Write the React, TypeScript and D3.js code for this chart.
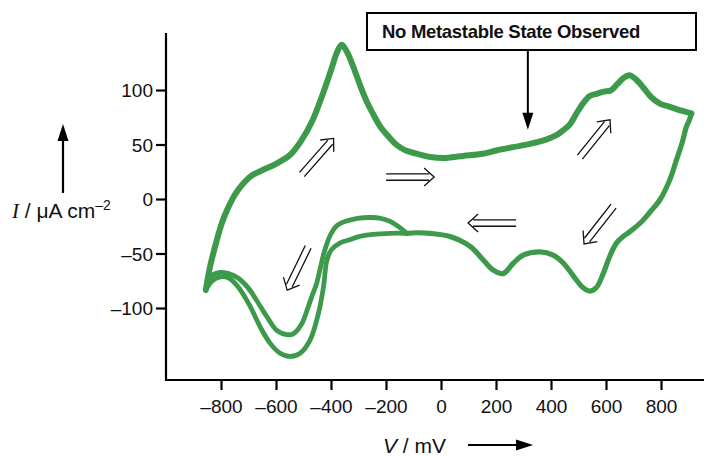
import React from "react";
import * as d3 from "d3";

// ---- Data ----
// Anodic (forward) scan: left vertex -> right vertex
const forwardV = [-857, -842, -820, -798, -775, -750, -720, -690, -650, -600, -550, -510, -470, -430, -400, -380, -363, -345, -321, -295, -272, -250, -223, -190, -163, -130, -90, -40, 5, 78, 150, 200, 260, 321, 380, 418, 445, 467, 491, 514, 539, 564, 590, 615, 640, 660, 683, 708, 733, 762, 794, 830, 854, 880, 909];
const forwardI = [-83, -62, -40, -21, -7, 5, 15, 22, 27, 33, 41, 54, 72, 98, 120, 135, 142, 136, 122, 104, 90, 79, 67, 57, 50, 45, 42, 39, 38, 40, 42, 45, 48, 51, 55, 59, 64, 69, 79, 88, 95, 97, 99, 100, 106, 111, 114, 110, 103, 94, 88, 85, 83, 81, 79];

// Cathodic (reverse) scan, common part: right vertex -> merge point
const reverseV = [909, 900, 891, 875, 854, 830, 795, 760, 733, 685, 660, 636, 612, 588, 564, 540, 515, 491, 442, 406, 358, 297, 261, 224, 188, 152, 104, 31, -42, -90, -126];
const reverseI = [79, 72, 67, 52, 36, 18, 0, -11, -19, -29.5, -34, -40, -52, -68, -80.5, -84, -81, -74, -58, -51, -48, -51, -58.5, -68, -64.7, -55.5, -43, -34, -31, -30.5, -31];

// Cycle A (hump at top, shallower peak): merge point -> left vertex
const cycleAV = [-126, -150, -187, -225, -260, -300, -335, -360, -381, -405, -425, -440, -454, -470, -484, -508, -538, -562, -599, -635, -659, -700, -740, -774, -810, -840, -857];
const cycleAI = [-31, -26, -20, -17, -16.5, -17, -19, -21, -24, -33, -47, -62, -77, -88, -98, -114, -123, -124, -120, -107.5, -98, -82, -72, -68, -67, -71, -83];

// Cycle B (flat top, deeper peak): merge point -> left vertex
const cycleBV = [-126, -187, -250, -300, -335, -370, -400, -417, -429, -447, -478, -514, -550, -587, -623, -659, -700, -740, -774, -805, -835, -857];
const cycleBI = [-31, -31, -32, -34, -37, -40, -46, -56, -80, -104, -129, -141, -144, -141, -132, -117, -96, -80, -72, -71, -75, -83];

const xTicks = [-800, -600, -400, -200, 0, 200, 400, 600, 800];
const yTicks = [-100, -50, 0, 50, 100];

// Scan-direction arrows (centre in data units, direction in degrees, screen-space)
const dirV = [-450, -114, 558, 184, 572, -523];
const dirI = [39.5, 20.6, 56, -21.6, -23.4, -63.3];
const dirAngle = [-48.7, 0, -51, 180, 128, 116];

const annotationText = "No Metastable State Observed";
const annotationTipV = 314;
const annotationTipI = 64;

const W = 708;
const H = 456;
const GREEN = "#3d9a4b";
const FONT = "'Liberation Sans', Arial, Helvetica, sans-serif";

const x = d3.scaleLinear().domain([-800, 800]).range([221.5, 661.5]);
const y = d3.scaleLinear().domain([-100, 100]).range([308.5, 90.5]);

const axisLeft = 166;
const axisBottom = 380;
const axisTop = 33;
const axisRight = 704;

const line = d3
  .line<[number, number]>()
  .x((d) => x(d[0]))
  .y((d) => y(d[1]))
  .curve(d3.curveCatmullRom.alpha(0.5));

const zip = (a: number[], b: number[]) => a.map((v, i) => [v, b[i]] as [number, number]);

function DoubleArrow({ cx, cy, angle }: { cx: number; cy: number; angle: number }) {
  const len = 48;
  const off = 3.2;
  const half = len / 2;
  const d = [
    `M${-half},${-off}L${half - 5},${-off}`,
    `M${-half},${off}L${half - 5},${off}`,
    `M${half - 10},${-9}L${half},0L${half - 10},9`,
  ].join("");
  return (
    <path
      d={d}
      transform={`translate(${cx},${cy}) rotate(${angle})`}
      fill="none"
      stroke="#111"
      strokeWidth={1.3}
      strokeLinejoin="miter"
    />
  );
}

export default function App() {
  const boxX0 = 367;
  const boxY0 = 13;
  const boxX1 = 696;
  const boxY1 = 50;
  const tipX = x(annotationTipV);
  const tipY = y(annotationTipI);
  return (
    <svg
      width={W}
      height={H}
      viewBox={`0 0 ${W} ${H}`}
      style={{ position: "absolute", left: 0, top: 0, background: "#fff" }}
      fontFamily={FONT}
    >
      <rect x={0} y={0} width={W} height={H} fill="#fff" />

      {/* axes */}
      <line x1={axisLeft} y1={axisTop} x2={axisLeft} y2={axisBottom + 1} stroke="#000" strokeWidth={2.2} />
      <line x1={axisLeft - 1} y1={axisBottom} x2={axisRight} y2={axisBottom} stroke="#000" strokeWidth={2.2} />

      {yTicks.map((t) => (
        <g key={"y" + t}>
          <line x1={axisLeft - 10} x2={axisLeft} y1={y(t)} y2={y(t)} stroke="#000" strokeWidth={2.2} />
          <text x={axisLeft - 13} y={y(t)} dy="0.36em" textAnchor="end" fontSize={19} fill="#111">
            {t < 0 ? "\u2013" + Math.abs(t) : String(t)}
          </text>
        </g>
      ))}
      {xTicks.map((t) => (
        <g key={"x" + t}>
          <line x1={x(t)} x2={x(t)} y1={axisBottom} y2={axisBottom + 10} stroke="#000" strokeWidth={2.2} />
          <text x={x(t)} y={413} textAnchor="middle" fontSize={19} fill="#111">
            {t < 0 ? "\u2013" + Math.abs(t) : String(t)}
          </text>
        </g>
      ))}

      {/* axis titles */}
      <text x={12} y={218} fontSize={21} fill="#111">
        <tspan fontFamily="'Liberation Serif', 'Times New Roman', serif" fontStyle="italic">I</tspan>
        <tspan> / μA cm</tspan>
        <tspan dy={-8} fontSize={14}>–2</tspan>
      </text>
      <line x1={63} y1={193} x2={63} y2={138} stroke="#000" strokeWidth={2.2} />
      <path d="M63,124L57.5,141L68.5,141Z" fill="#000" />

      <text x={383} y={453} fontSize={21} fill="#111">
        <tspan fontStyle="italic">V</tspan>
        <tspan> / mV</tspan>
      </text>
      <line x1={468} y1={445} x2={518} y2={445} stroke="#000" strokeWidth={2.2} />
      <path d="M533,445L516,439.5L516,450.5Z" fill="#000" />

      {/* curves */}
      <path d={line(zip(cycleAV, cycleAI)) || ""} fill="none" stroke={GREEN} strokeWidth={4.8} strokeLinejoin="round" strokeLinecap="round" />
      <path d={line(zip(cycleBV, cycleBI)) || ""} fill="none" stroke={GREEN} strokeWidth={4.8} strokeLinejoin="round" strokeLinecap="round" />
      <path d={line(zip(reverseV, reverseI)) || ""} fill="none" stroke={GREEN} strokeWidth={5.2} strokeLinejoin="round" strokeLinecap="round" />
      <path d={line(zip(forwardV, forwardI)) || ""} fill="none" stroke={GREEN} strokeWidth={6} strokeLinejoin="round" strokeLinecap="round" />

      {/* scan direction arrows */}
      {dirV.map((v, i) => (
        <DoubleArrow key={"a" + i} cx={x(v)} cy={y(dirI[i])} angle={dirAngle[i]} />
      ))}

      {/* annotation */}
      <rect x={boxX0} y={boxY0} width={boxX1 - boxX0} height={boxY1 - boxY0} fill="#fff" stroke="#000" strokeWidth={2} />
      <text x={382} y={38} fontSize={18.5} fontWeight="bold" fill="#111" letterSpacing={-0.3}>
        {annotationText}
      </text>
      <line x1={tipX} y1={boxY1} x2={tipX} y2={tipY - 14} stroke="#000" strokeWidth={2} />
      <path d={`M${tipX},${tipY}L${tipX - 5.5},${tipY - 17}L${tipX + 5.5},${tipY - 17}Z`} fill="#000" />
    </svg>
  );
}
